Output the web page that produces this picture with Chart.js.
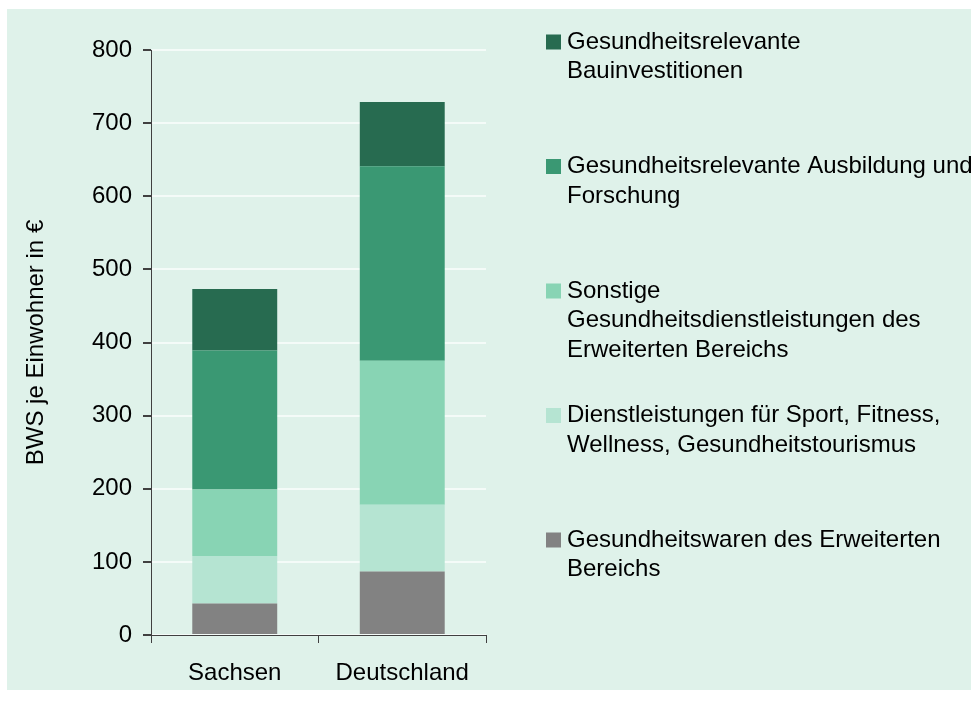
<!DOCTYPE html>
<html>
<head>
<meta charset="utf-8">
<script src="https://cdn.jsdelivr.net/npm/chart.js@4/dist/chart.umd.min.js"></script>
<style>
  html, body { margin: 0; padding: 0; background: #ffffff; }
  #wrap { width: 971px; height: 713px; position: relative; }
</style>
</head>
<body>
<div id="wrap"><canvas id="c" width="971" height="713"></canvas></div>
<script>
// ---- Data ----
const categories = ["Sachsen", "Deutschland"];

const seriesNames = [
  ["Gesundheitswaren des Erweiterten", "Bereichs"],
  ["Dienstleistungen für Sport, Fitness,", "Wellness, Gesundheitstourismus"],
  ["Sonstige", "Gesundheitsdienstleistungen des", "Erweiterten Bereichs"],
  ["Gesundheitsrelevante Ausbildung und", "Forschung"],
  ["Gesundheitsrelevante", "Bauinvestitionen"]
];

const gesundheitswaren       = [43, 87];
const sportFitnessWellness   = [65, 91];
const sonstigeDienstleistung = [91, 197];
const ausbildungForschung    = [190, 266];
const bauinvestitionen       = [84, 88];

const seriesColors = ["#828282", "#b5e4d2", "#88d4b4", "#3a9873", "#276b50"];

const yTicks = [0, 100, 200, 300, 400, 500, 600, 700, 800];
const yTitle = "BWS je Einwohner in €";

const seriesValues = [gesundheitswaren, sportFitnessWellness, sonstigeDienstleistung, ausbildungForschung, bauinvestitionen];

const FONT = "'Liberation Sans', Arial, sans-serif";

const bgPlugin = {
  id: 'bg',
  beforeDraw(chart) {
    const ctx = chart.ctx;
    ctx.save();
    ctx.fillStyle = '#ffffff';
    ctx.fillRect(0, 0, chart.width, chart.height);
    ctx.fillStyle = '#dff2ea';
    ctx.fillRect(7, 9, chart.width - 7, 681);
    ctx.restore();
  }
};

const legendPlugin = {
  id: 'sideLegend',
  afterDraw(chart) {
    const ctx = chart.ctx;
    const ds = chart.data.datasets;
    ctx.save();
    ctx.font = "24px " + FONT;
    ctx.textBaseline = 'middle';
    ctx.textAlign = 'left';
    const x0 = 546, box = 15, textX = 567, firstY = 42, step = 124.5, lh = 29.5;
    for (let k = 0; k < ds.length; k++) {
      const d = ds[ds.length - 1 - k];
      const y = firstY + k * step;
      ctx.fillStyle = d.backgroundColor;
      ctx.fillRect(x0, y - box / 2, box, box);
      ctx.fillStyle = '#000000';
      d.legendLines.forEach((line, j) => ctx.fillText(line, textX, y + j * lh));
    }
    ctx.restore();
  }
};

new Chart(document.getElementById('c'), {
  type: 'bar',
  data: {
    labels: categories,
    datasets: seriesValues.map((vals, i) => ({
      label: seriesNames[i].join(' '),
      legendLines: seriesNames[i],
      data: vals,
      backgroundColor: seriesColors[i],
      borderWidth: 0,
      categoryPercentage: 1.0,
      barPercentage: 0.507
    }))
  },
  options: {
    responsive: false,
    animation: false,
    layout: { padding: { left: 0, top: 50, right: 485, bottom: 0 } },
    plugins: {
      legend: { display: false },
      tooltip: { enabled: false }
    },
    scales: {
      x: {
        stacked: true,
        grid: { display: true, drawOnChartArea: false, tickLength: 8, tickColor: '#404040', offset: true },
        border: { display: true, color: '#404040', width: 1 },
        ticks: { color: '#000000', font: { family: FONT, size: 24 }, padding: 16, maxRotation: 0 },
        afterFit(scale) { scale.height = 78; }
      },
      y: {
        stacked: true,
        min: 0, max: 800,
        afterBuildTicks(scale) { scale.ticks = yTicks.map(v => ({ value: v })); },
        grid: { color: '#f4fbf8', lineWidth: 2, tickLength: 8, tickColor: '#404040' },
        border: { display: true, color: '#404040', width: 1 },
        ticks: { color: '#000000', font: { family: FONT, size: 24 }, padding: 11 },
        title: {
          display: true, text: yTitle, color: '#000000',
          font: { family: FONT, size: 24 }, padding: { top: 22, bottom: 0 }
        },
        afterFit(scale) { scale.width = 151; }
      }
    }
  },
  plugins: [bgPlugin, legendPlugin]
});
</script>
</body>
</html>
